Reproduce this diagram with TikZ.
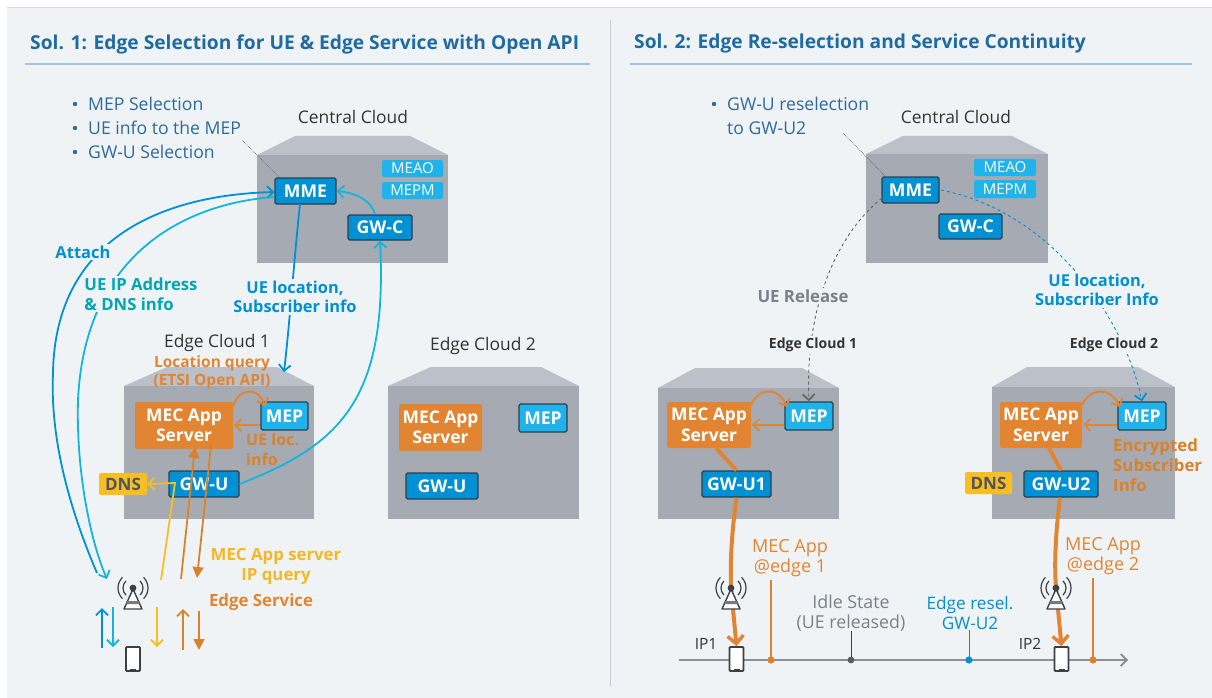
\documentclass[tikz,border=0pt]{standalone}
\usepackage{fontspec}
\setmainfont{Open Sans}
\usetikzlibrary{arrows.meta}
\definecolor{panel}{HTML}{F0F3F5}
\definecolor{rule}{HTML}{9DC3E6}
\definecolor{divider}{HTML}{C8CDD3}
\definecolor{titleblue}{HTML}{1F6AA0}
\definecolor{bullet}{HTML}{2B6A9B}
\definecolor{front}{HTML}{A6ABB3}
\definecolor{roof}{HTML}{BCC0C8}
\definecolor{gwblue}{HTML}{0090D4}
\definecolor{mepblue}{HTML}{20B2EA}
\definecolor{edgeline}{HTML}{2A4050}
\definecolor{cyanline}{HTML}{12B5DC}
\definecolor{teal}{HTML}{00A6B4}
\definecolor{orangeA}{HTML}{E28532}
\definecolor{orangeB}{HTML}{D9822B}
\definecolor{yell}{HTML}{F9BE1F}
\definecolor{yelltext}{HTML}{F2B827}
\definecolor{dnstext}{HTML}{505560}
\definecolor{greytext}{HTML}{7B818A}
\definecolor{darktext}{HTML}{333333}
\definecolor{axis}{HTML}{8A9098}
\definecolor{antenna}{HTML}{3C4044}
\tikzset{
  x=1pt,y=-1pt,
  open/.style={-{Straight Barb[length=6pt,width=12pt,line width=1.8pt]}},
  solidtip/.style={-{Triangle[length=11pt,width=11pt]}},
  tx/.style={inner sep=0pt,align=center},
  gap/.style={inner sep=2pt,fill=panel,align=center},
  box/.style={rectangle,inner sep=0pt,align=center,text=white},
  gw/.style={box,fill=gwblue,draw=edgeline,line width=1.2pt,rounded corners=1.5pt,font=\bfseries\fontsize{17.6}{20}\selectfont},
  mep/.style={box,fill=mepblue,draw=edgeline,line width=1.2pt,rounded corners=1.5pt,font=\bfseries\fontsize{17.6}{20}\selectfont},
  mini/.style={box,fill=mepblue,rounded corners=1.5pt,font=\fontsize{15}{17}\selectfont},
  app/.style={box,fill=orangeA,rounded corners=1.5pt,font=\bfseries\fontsize{17.4}{20.5}\selectfont},
  dns/.style={box,fill=yell,rounded corners=1.5pt,text=dnstext,font=\bfseries\fontsize{17}{18}\selectfont},
  cloudlbl/.style={tx,text=darktext,font=\fontsize{17.4}{20}\selectfont},
  titlelbl/.style={tx,anchor=west,text=titleblue,font=\bfseries\fontsize{19.2}{22}\selectfont},
  bulletlbl/.style={tx,anchor=west,align=left,text=bullet,font=\fontsize{17.6}{20}\selectfont},
  phone/.style={rectangle,draw=antenna,fill=white,line width=1.8pt,rounded corners=1pt,minimum width=14pt,minimum height=24pt,inner sep=0pt},
  tick/.style={line width=1.3pt},
  ant/.pic={
    \draw[antenna,line width=1.4pt,fill=white,line join=round] (0,1) -- (-9,21) -- (9,21) -- cycle;
    \fill[antenna!70] (-5.5,13) -- (5.5,13) -- (6.6,16) -- (-6.6,16) -- cycle;
    \fill[antenna] (0,0) circle (3.4);
    \foreach \r in {10,15}{
      \draw[antenna,line width=1.2pt] ({-\r*cos(45)},{-\r*sin(45)}) arc[start angle=-135,end angle=-225,radius=\r];
      \draw[antenna,line width=1.2pt] ({\r*cos(45)},{-\r*sin(45)}) arc[start angle=-45,end angle=45,radius=\r];
    }
  }
}
\newcommand\cloudbox[7]{%
  \fill[roof] (#1,#3) -- (#6,#5) -- (#7,#5) -- (#2,#3) -- cycle;
  \fill[front] (#1,#3) rectangle (#2,#4);
}
\newcommand\bx[7]{\node[#6,minimum width={#4-#2},minimum height={#5-#3}] (#1) at ({(#2+#4)/2},{(#3+#5)/2}) {#7};}
\begin{document}
\begin{tikzpicture}
\useasboundingbox (0,0) rectangle (1212,698);
\fill[white] (0,0) rectangle (1212,698);
\fill[panel] (7,8) rectangle (1212,698);
\draw[divider!70,line width=0.8pt] (7,7.5) -- (1212,7.5);

% titles
\node[titlelbl] (t1) at (30,44) {Sol. 1: Edge Selection for UE \& Edge Service with Open API};
\node[titlelbl] (t2) at (634,44) {Sol. 2: Edge Re-selection and Service Continuity};
\draw[rule,line width=1.2pt] (25,64) -- (590,64);
\draw[rule,line width=1.2pt] (630,64) -- (1192,64);
\draw[divider,line width=1pt] (610,20) -- (610,686);

% clouds
\cloudbox{257}{448}{155}{263}{136}{295}{410}
\cloudbox{124}{314}{386}{519}{367}{167}{277}
\cloudbox{388}{579}{386}{519}{367}{431}{541}
\cloudbox{866}{1048}{154}{263}{136}{903}{1012}
\cloudbox{658}{839}{388}{519}{368}{695}{802}
\cloudbox{992}{1175}{387}{519}{367}{1027}{1138}

% ---------- left boxes
\bx{mmeL}{275}{178}{336}{204}{gw}{MME}
\bx{meaoL}{382}{160}{443}{177}{mini}{MEAO}
\bx{mepmL}{382}{182}{443}{199}{mini}{MEPM}
\bx{gwcL}{348}{215}{412}{240}{gw}{GW-C}
\bx{appL}{135}{402}{233}{449}{app}{MEC App\\Server}
\bx{mepL}{261}{402}{308}{430}{mep}{MEP}
\bx{gwuL}{169}{471}{239}{497}{gw}{GW-U}
\bx{dnsL}{99}{473}{147}{495}{dns}{DNS}
\bx{appLb}{399}{404}{482}{451}{app}{MEC App\\Server}
\bx{mepLb}{519}{404}{567}{432}{mep}{MEP}
\bx{gwuLb}{406}{473}{478}{499}{gw}{GW-U}

% ---------- right boxes
\bx{mmeR}{882}{177}{939}{203}{gw}{MME}
\bx{meaoR}{974}{159}{1036}{176}{mini}{MEAO}
\bx{mepmR}{974}{180}{1036}{198}{mini}{MEPM}
\bx{gwcR}{939}{214}{1002}{239}{gw}{GW-C}
\bx{appR}{667}{402}{751}{448}{app}{MEC App\\Server}
\bx{mepR}{785}{402}{833}{430}{mep}{MEP}
\bx{gwuR}{702}{471}{771}{497}{gw}{GW-U1}
\bx{appRb}{1000}{402}{1082}{448}{app}{MEC App\\Server}
\bx{mepRb}{1118}{402}{1166}{430}{mep}{MEP}
\bx{gwuRb}{1024}{471}{1098}{497}{gw}{GW-U2}
\bx{dnsR}{965}{472}{1012}{494}{dns}{DNS}

% free ends
\coordinate (attEnd) at (97,573);
\coordinate (attMid) at (53,373);
\coordinate (ipEnd) at (107,579);
\coordinate (ipMid) at (78,400);
\coordinate (ylA) at (161,580);
\coordinate (ylB) at (175,483);
\coordinate (orA) at (181,579);
\coordinate (orB) at (197,578);
\coordinate (ldA) at (242,140);
\coordinate (ldB) at (843,133);

% cloud / bullet labels
\node[cloudlbl] (ccL) at (353,117) {Central Cloud};
\node[cloudlbl] (ecL1) at (217,343) {Edge Cloud 1};
\node[cloudlbl] (ecL2) at (483,346) {Edge Cloud 2};
\node[cloudlbl] (ccR) at (956,117) {Central Cloud};
\node[bulletlbl] (b1) at (88,104) {MEP Selection};
\node[bulletlbl] (b2) at (88,128) {UE info to the MEP};
\node[bulletlbl] (b3) at (88,152) {GW-U Selection};
\fill[bullet] (75,104) circle (2.2) (75,128) circle (2.2) (75,152) circle (2.2);
\node[bulletlbl] (b4) at (727,104) {GW-U reselection};
\node[bulletlbl] (b5) at (727,128) {to GW-U2};
\fill[bullet] (714,104) circle (2.2);

% leaders
\draw[antenna!80,line width=0.7pt,densely dotted] (ldA) -- (279,177);
\draw[antenna!80,line width=0.7pt,densely dotted] (ldB) -- (885,176);

% left connectors
\draw[gwblue,line width=1.8pt,open] (attEnd) .. controls (70,510) and (50,440) .. (attMid) .. controls (55,240) and (160,195) .. (mmeL.west |- 0,192);
\draw[cyanline,line width=1.8pt] (mmeL.west |- 0,197) .. controls (190,203) and (85,250) .. (ipMid);
\draw[cyanline,line width=1.8pt,open] (ipMid) .. controls (76,470) and (90,540) .. (ipEnd);
\draw[gwblue,line width=1.8pt,open] (300,204) .. controls (294,260) and (290,320) .. (284,372);
\draw[cyanline,line width=1.8pt,open] (gwcL.north) ++(-5,0) .. controls (372,202) and (358,193) .. (mmeL.east);
\draw[cyanline,line width=1.8pt,open] (gwuL.east) .. controls (340,445) and (388,400) .. (gwcL.south);
\node[gap,text=gwblue,font=\bfseries\fontsize{16.5}{20}\selectfont] (attach) at (83,252) {Attach};
\node[gap,text=teal,align=left,font=\bfseries\fontsize{16.7}{20}\selectfont] (ueip) at (141,294) {UE IP Address\\\& DNS info};
\node[gap,text=gwblue,font=\bfseries\fontsize{16.4}{19.5}\selectfont] (ueloc) at (295,297) {UE location,\\Subscriber info};

\draw[orangeA,line width=2pt,open] (233,407) .. controls (238,388) and (258,386) .. (265,406);
\draw[orangeA,line width=2pt,open] (mepL.west |- 0,425) -- (234,425);
\node[tx,text=orangeA,font=\bfseries\fontsize{15.5}{18}\selectfont] (lq) at (212,372) {Location query\\(ETSI Open API)};
\node[tx,text=orangeB,align=left,anchor=north west,font=\bfseries\fontsize{16}{20}\selectfont] (ueinfo) at (246,433) {UE loc.\\info};

\draw[yell,line width=1.8pt,open] (ylA) -- (ylB) -- (dnsL.east);
\draw[orangeB,line width=1.8pt,solidtip] (orA) -- (195,447);
\draw[orangeB,line width=1.8pt,solidtip] (211,445) -- (orB);

\node[tx,text=yelltext,font=\bfseries\fontsize{16.8}{20}\selectfont] (ipq) at (276,566) {MEC App server\\IP query};
\node[tx,text=orangeA,font=\bfseries\fontsize{16.8}{20}\selectfont] (es) at (261,602) {Edge Service};

% left bottom
\coordinate (anL) at (133,588);
\pic at (anL) {ant};
\node[phone] (phL) at (133,659) {};
\fill[antenna] (130,669) rectangle (136,671);
\coordinate (s1) at (102,648); \coordinate (s1e) at (102,608);
\coordinate (s2) at (113,607); \coordinate (s2e) at (113,647);
\coordinate (s3) at (157,607); \coordinate (s3e) at (157,647);
\coordinate (s4) at (183,650); \coordinate (s4e) at (183,609);
\coordinate (s5) at (199,611); \coordinate (s5e) at (199,650);
\draw[gwblue,line width=1.8pt,open] (s1) -- (s1e);
\draw[cyanline,line width=1.8pt,open] (s2) -- (s2e);
\draw[yell,line width=1.8pt,open] (s3) -- (s3e);
\draw[orangeB,line width=1.8pt,open] (s4) -- (s4e);
\draw[orangeB,line width=1.8pt,solidtip] (s5) -- (s5e);

% ---------- right connectors
\draw[antenna!80,line width=0.9pt,dashed,open] (882,198) .. controls (830,240) and (805,320) .. (mepR.north);
\draw[gwblue,line width=0.9pt,dashed,open] (941,190) .. controls (1053,212) and (1125,320) .. (mepRb.north);
\node[gap,text=greytext,font=\bfseries\fontsize{16.8}{20}\selectfont] (uerel) at (803,296) {UE Release};
\node[gap,text=gwblue,font=\bfseries\fontsize{16.4}{19.5}\selectfont] (ueloc2) at (1097,290) {UE location,\\Subscriber Info};
\node[gap,text=darktext,font=\bfseries\fontsize{14}{16}\selectfont] (ecR1) at (813,345) {Edge Cloud 1};
\node[gap,text=darktext,font=\bfseries\fontsize{14}{16}\selectfont] (ecR2) at (1114,345) {Edge Cloud 2};

\draw[orangeA,line width=2pt,open] (751,405) .. controls (758,388) and (778,386) .. (787,407);
\draw[orangeA,line width=2pt,open] (mepR.west |- 0,425) -- (752,425);
\draw[orangeA,line width=2pt,open] (1082,405) .. controls (1090,388) and (1110,386) .. (1120,407);
\draw[orangeA,line width=2pt,open] (mepRb.west |- 0,425) -- (1083,425);

\draw[orangeA,line width=4pt] (716,448) -- (gwuR.north);
\draw[orangeA,line width=4pt] (1049,448) -- (gwuRb.north);

\node[tx,text=orangeB,align=left,anchor=north west,font=\bfseries\fontsize{16.8}{20}\selectfont] (enc) at (1113,439) {Encrypted\\Subscriber\\Info};

% timeline
\coordinate (tlS) at (679,660);
\coordinate (tlE) at (1128,660);
\draw[axis,line width=1.8pt,open] (tlS) -- (tlE);
\coordinate (dot1) at (771,660); \coordinate (dot2) at (851,660);
\coordinate (dot3) at (969,660); \coordinate (dot4) at (1093,660);
\node[tx,text=orangeA,font=\fontsize{18}{20}\selectfont] (me1) at (790,558) {MEC App\\@edge 1};
\node[tx,text=orangeA,font=\fontsize{18}{20}\selectfont] (me2) at (1103,556) {MEC App\\@edge 2};
\node[tx,text=greytext,font=\fontsize{17.8}{20}\selectfont] (idle) at (851,613) {Idle State\\(UE released)};
\node[tx,text=gwblue,font=\fontsize{17.2}{20}\selectfont] (resel) at (970,613) {Edge resel.\\GW-U2};
\node[tx,text=darktext,font=\fontsize{15.5}{18}\selectfont] (ip1) at (706,644) {IP1};
\node[tx,text=darktext,font=\fontsize{15.5}{18}\selectfont] (ip2) at (1030,644) {IP2};
\draw[orangeB,tick] (771,580) -- (dot1);
\draw[antenna,line width=1pt] (dot2 |- idle.south) -- (dot2);
\draw[gwblue,line width=1pt] (dot3 |- resel.south) -- (dot3);
\draw[orangeB,tick] (1093,578) -- (dot4);
\fill[orangeB] (dot1) circle (3.6);
\fill[antenna!85] (dot2) circle (3.4);
\fill[gwblue] (dot3) circle (3.6);
\fill[orangeB] (dot4) circle (3.6);

\coordinate (an1) at (731,588);
\coordinate (an2) at (1056,588);
\node[phone] (ph1) at (736.5,659) {};
\node[phone] (ph2) at (1061.5,659) {};
\fill[antenna] (733.5,669) rectangle (739.5,671);
\fill[antenna] (1058.5,669) rectangle (1064.5,671);
\draw[orangeA,line width=4pt] (gwuR.south) ++(0,0) .. controls (732,530) and (730,560) .. (an1);
\draw[orangeA,line width=4pt,-{Straight Barb[length=8pt,width=16pt,line width=3.4pt]}] (an1) -- (ph1.north);
\draw[orangeA,line width=4pt] (gwuRb.south) ++(-1,0) .. controls (1056,530) and (1054,560) .. (an2);
\draw[orangeA,line width=4pt,-{Straight Barb[length=8pt,width=16pt,line width=3.4pt]}] (an2) -- (ph2.north);
\pic at (an1) {ant};
\pic at (an2) {ant};
\end{tikzpicture}
\end{document}
